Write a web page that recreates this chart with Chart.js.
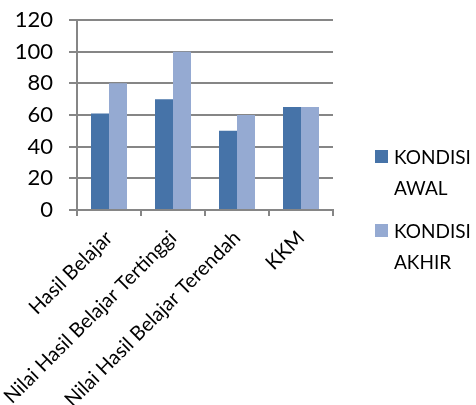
<!DOCTYPE html>
<html><head><meta charset="utf-8">
<script src="https://cdn.jsdelivr.net/npm/chart.js@4"></script>
<style>html,body{margin:0;padding:0;background:#fff}#wrap{width:476px;height:405px;position:relative}</style>
</head><body><div id="wrap"><canvas id="c" width="476" height="405"></canvas></div>
<script>
const categories = ["Hasil Belajar","Nilai Hasil Belajar Tertinggi","Nilai Hasil Belajar Terendah","KKM"];
const seriesNames = [["KONDISI","AWAL"],["KONDISI","AKHIR"]];
const kondisiAwal = [61,70,50,65];
const kondisiAkhir = [80,100,60,65];
const yTicks = [0,20,40,60,80,100,120];
const FONT = "Lato";
const grid = "#868686";

const legendPlugin = {
  id: 'sideLegend',
  afterDraw(chart){
    const ctx = chart.ctx;
    const tops = [150, 224];
    ctx.save();
    chart.data.datasets.forEach((ds,i)=>{
      const t = tops[i];
      ctx.fillStyle = ds.backgroundColor;
      ctx.fillRect(375, t, 13, 13);
      ctx.fillStyle = "#000";
      ctx.font = "19px " + FONT;
      ctx.textBaseline = "alphabetic";
      ctx.textAlign = "left";
      const lines = seriesNames[i];
      lines.forEach((ln,j)=>ctx.fillText(ln, 394, t + 14 + j*31));
    });
    ctx.restore();
  }
};

new Chart(document.getElementById('c'), {
  type: 'bar',
  data: {
    labels: categories,
    datasets: [
      {label: seriesNames[0].join(' '), data: kondisiAwal, backgroundColor: '#4673A8', categoryPercentage: 0.5625, barPercentage: 1.0},
      {label: seriesNames[1].join(' '), data: kondisiAkhir, backgroundColor: '#95AAD2', categoryPercentage: 0.5625, barPercentage: 1.0}
    ]
  },
  options: {
    responsive: false,
    animation: false,
    layout: {padding: {top: 20, right: 143, left: 0, bottom: 0}},
    plugins: {legend: {display: false}, tooltip: {enabled: false}},
    scales: {
      x: {
        grid: {offset: true, drawOnChartArea: false, drawTicks: true, tickLength: 6, color: grid, lineWidth: 2},
        border: {display: true, color: grid, width: 2},
        ticks: {color: '#000', font: {family: FONT, size: 20}, minRotation: 45, maxRotation: 45, autoSkip: false, padding: 10},
        afterFit(s){ s.height = 195; s.paddingLeft = 0; s.paddingRight = 0; }
      },
      y: {
        min: 0, max: 120,
        afterBuildTicks(s){ s.ticks = yTicks.map(v=>({value:v})); },
        grid: {color: grid, lineWidth: 2, tickLength: 8},
        border: {display: true, color: grid, width: 2},
        ticks: {color: '#000', font: {family: FONT, size: 22}, padding: 16},
        afterFit(s){ s.width = 77; s.paddingTop = 0; s.paddingBottom = 0; }
      }
    }
  },
  plugins: [legendPlugin]
});
</script></body></html>
